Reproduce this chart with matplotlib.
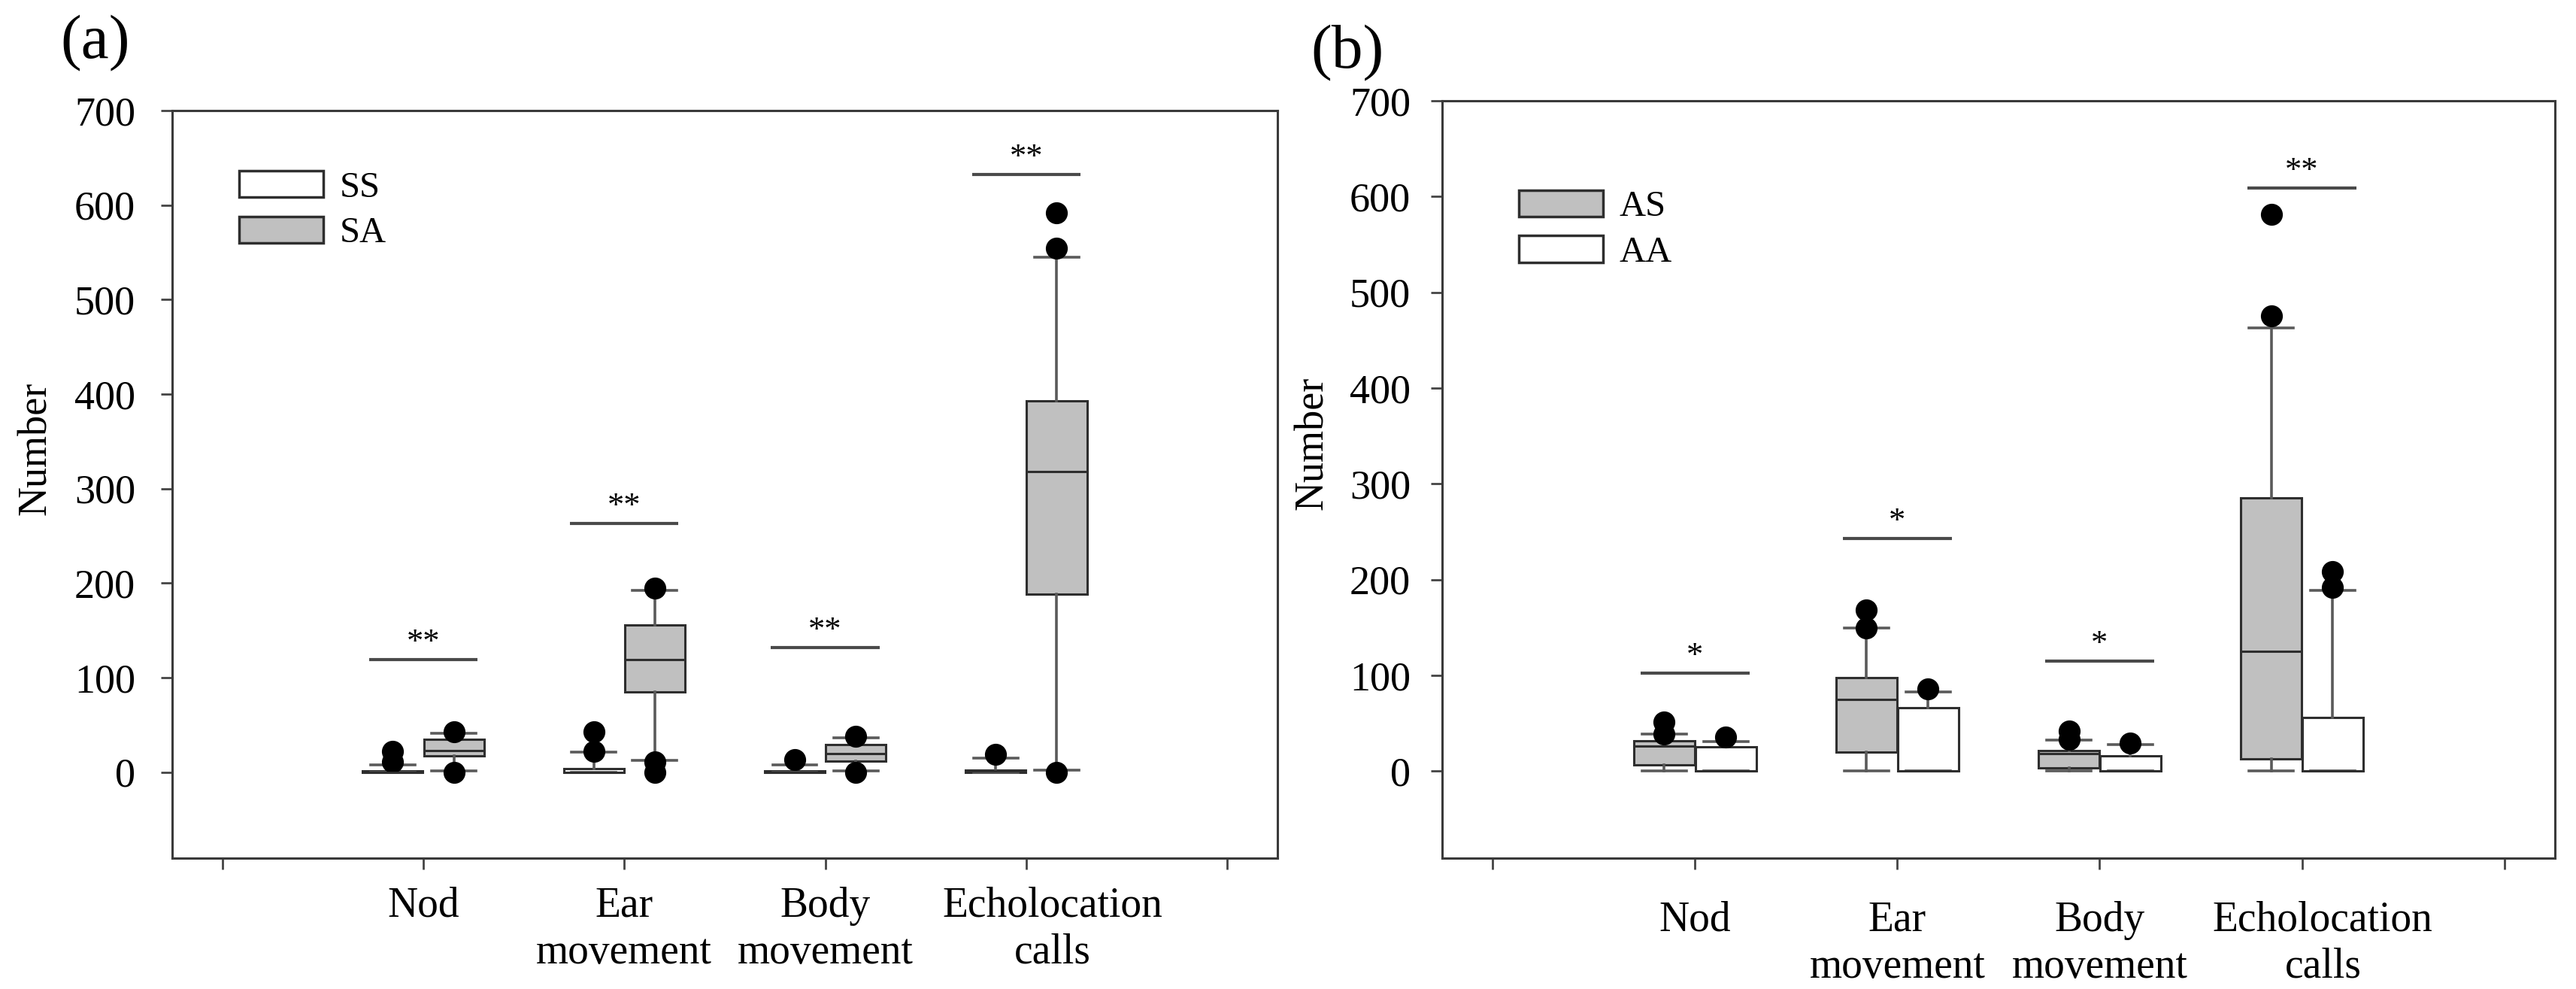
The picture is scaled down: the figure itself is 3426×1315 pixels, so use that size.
import matplotlib.pyplot as plt
import matplotlib.transforms as mtransforms
from matplotlib.patches import Patch

# ─── Stile ───────────────────────────────────────────────────────────────────
plt.rcParams.update({
    "font.family": "serif",
    "font.serif":  ["Liberation Serif", "Times New Roman", "DejaVu Serif"],
})

EDGE   = "#2e2e2e"
WHISK  = "#5a5a5a"
GREY   = "#c0c0c0"
BOX_W  = 0.30
CAP_W  = 0.22
OFF    = 0.152

CATEGORIES = ["Nod", "Ear\nmovement", "Body\nmovement", "Echolocation\ncalls"]

# ─── Dati pannello (a): SS (bianco) vs SA (grigio) ──────────────────────────
SS_Q1  = [0, 0, 0, 0]
SS_MED = [0, 0, 0, 1]
SS_Q3  = [1, 4, 1, 2]
SS_LO  = [0, 0, 0, 0]
SS_HI  = [8, 21, 7.5, 15]
SS_OUT = [[11, 22], [22, 43], [13], [19]]

SA_Q1  = [17.5, 84.5, 11.7, 188.5]
SA_MED = [23, 119, 20, 318]
SA_Q3  = [35, 156, 29.4, 393]
SA_LO  = [1, 12.5, 1, 2.5]
SA_HI  = [41, 192.5, 36, 545]
SA_OUT = [[0, 43], [0, 11, 195], [0, 38], [0, 554, 592]]

SIG_Y_A = [119, 263, 132, 632]
SIG_A   = ["**", "**", "**", "**"]

# ─── Dati pannello (b): AS (grigio) vs AA (bianco) ──────────────────────────
AS_Q1  = [6.4, 19.5, 3, 12.7]
AS_MED = [26, 75, 18, 125]
AS_Q3  = [31.8, 97.3, 21.4, 285]
AS_LO  = [0, 0, 0, 0]
AS_HI  = [39, 149, 32, 463]
AS_OUT = [[39, 51], [149, 168], [33, 42], [475, 581]]

AA_Q1  = [0, 0, 0, 0]
AA_MED = [0, 0, 0, 0]
AA_Q3  = [25, 66, 16, 56]
AA_LO  = [0, 0, 0, 0]
AA_HI  = [30.5, 83, 28, 189]
AA_OUT = [[35.7], [85.5], [29], [192, 208]]

SIG_Y_B = [102.5, 243, 115, 609]
SIG_B   = ["*", "*", "*", "**"]


def box_stats(q1, med, q3, lo, hi, out):
    return [dict(q1=a, med=b, q3=c, whislo=d, whishi=e, fliers=f)
            for a, b, c, d, e, f in zip(q1, med, q3, lo, hi, out)]


def draw_boxes(ax, stats, positions, fill):
    ax.bxp(stats, positions=positions, widths=BOX_W, capwidths=CAP_W,
           patch_artist=True, manage_ticks=False,
           boxprops=dict(facecolor=fill, edgecolor=EDGE, linewidth=2.2),
           medianprops=dict(color=EDGE, linewidth=2.2),
           whiskerprops=dict(color=WHISK, linewidth=2.6),
           capprops=dict(color=WHISK, linewidth=2.6),
           flierprops=dict(marker="o", markerfacecolor="black",
                           markeredgecolor="black", markersize=20,
                           linestyle="none"))


def style_panel(ax, sig_y, sig_txt, ypad, xpad, echo_shift, ylab_x):
    xs = range(1, len(CATEGORIES) + 1)
    for x, y, s in zip(xs, sig_y, sig_txt):
        ax.plot([x - 0.27, x + 0.27], [y, y], color="#4a4a4a", lw=3.0,
                solid_capstyle="butt")
        ax.annotate(s, xy=(x, y), xytext=(0, 8), textcoords="offset points",
                    ha="center", va="baseline", fontsize=32)

    ax.set_xlim(-0.25, 5.25)
    ax.set_ylim(-91, 700)
    ax.set_xticks(range(6))
    ax.set_xticklabels([""] + CATEGORIES + [""])
    ax.set_yticks(range(0, 701, 100))
    ax.tick_params(axis="y", direction="out", length=11, width=2,
                   color="#444444", labelsize=39, pad=ypad)
    ax.tick_params(axis="x", direction="out", length=11, width=2,
                   color="#444444", labelsize=40, pad=xpad)
    for lab in ax.get_xticklabels():
        lab.set_linespacing(1.25)
    # "Echolocation calls" è spostato un po' a destra nell'originale
    lab = ax.get_xticklabels()[4]
    lab.set_transform(lab.get_transform() + mtransforms.ScaledTranslation(
        echo_shift / 72, 0, ax.figure.dpi_scale_trans))

    for sp in ax.spines.values():
        sp.set_linewidth(2.2)
        sp.set_color("#3a3a3a")

    ax.set_ylabel("Number", fontsize=39)
    ax.yaxis.set_label_coords(ylab_x, 0.548)


fig = plt.figure(figsize=(34.26, 13.15), dpi=100)
ax_a = fig.add_axes([0.0668, 0.1323, 0.4291, 0.7559])
ax_b = fig.add_axes([0.5598, 0.1323, 0.4320, 0.7658])

pos = [1, 2, 3, 4]

# ── Pannello (a)
draw_boxes(ax_a, box_stats(SS_Q1, SS_MED, SS_Q3, SS_LO, SS_HI, SS_OUT),
           [p - OFF for p in pos], "white")
draw_boxes(ax_a, box_stats(SA_Q1, SA_MED, SA_Q3, SA_LO, SA_HI, SA_OUT),
           [p + OFF for p in pos], GREY)
style_panel(ax_a, SIG_Y_A, SIG_A, ypad=24, xpad=16, echo_shift=25,
            ylab_x=-0.106)
ax_a.legend(handles=[Patch(facecolor="white", edgecolor=EDGE, lw=2.5, label="SS"),
                     Patch(facecolor=GREY, edgecolor=EDGE, lw=2.5, label="SA")],
            loc="upper left", bbox_to_anchor=(0.0605, 0.9195), frameon=False,
            fontsize=35, borderpad=0, borderaxespad=0, handlelength=2.3,
            handleheight=0.74, handletextpad=0.45, labelspacing=0.33)

# ── Pannello (b)
draw_boxes(ax_b, box_stats(AS_Q1, AS_MED, AS_Q3, AS_LO, AS_HI, AS_OUT),
           [p - OFF for p in pos], GREY)
draw_boxes(ax_b, box_stats(AA_Q1, AA_MED, AA_Q3, AA_LO, AA_HI, AA_OUT),
           [p + OFF for p in pos], "white")
style_panel(ax_b, SIG_Y_B, SIG_B, ypad=19, xpad=30, echo_shift=20,
            ylab_x=-0.099)
ax_b.legend(handles=[Patch(facecolor=GREY, edgecolor=EDGE, lw=2.5, label="AS"),
                     Patch(facecolor="white", edgecolor=EDGE, lw=2.5, label="AA")],
            loc="upper left", bbox_to_anchor=(0.0689, 0.882), frameon=False,
            fontsize=35, borderpad=0, borderaxespad=0, handlelength=2.3,
            handleheight=0.74, handletextpad=0.45, labelspacing=0.33)

fig.text(0.0234, 0.985, "(a)", fontsize=60, va="top", ha="left")
fig.text(0.509, 0.975, "(b)", fontsize=60, va="top", ha="left")

fig.savefig("out.png", dpi=100)
